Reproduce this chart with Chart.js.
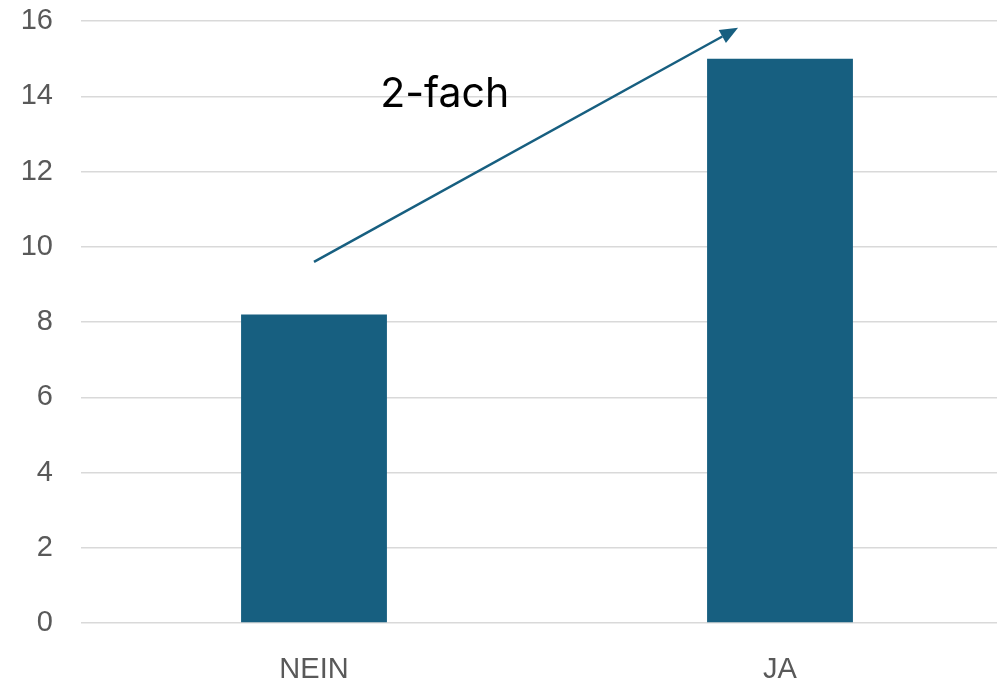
<!DOCTYPE html>
<html>
<head>
<meta charset="utf-8">
<script src="https://cdn.jsdelivr.net/npm/chart.js@4/dist/chart.umd.min.js"></script>
<style>
  html, body { margin: 0; padding: 0; background: #fff; overflow: hidden; }
  #wrap { width: 1013px; height: 679px; }
</style>
</head>
<body>
<div id="wrap"><canvas id="c" width="1013" height="679"></canvas></div>
<script>
// Categories and values
const categories = ['NEIN', 'JA'];
const values = [8.2, 15];
const yTicks = [0, 2, 4, 6, 8, 10, 12, 14, 16];

// Trend arrow and its caption, in data units (category index, value)
const arrowFrom = [0, 9.6];
const arrowTo = [0.91, 15.82];
const captionAt = [0.142, 13.71];
const captionText = '2-fach';

const barColor = '#175f80';
const gridColor = '#d9d9d9';
const tickColor = '#595959';
const tickFont = { family: "'Liberation Sans Narrow', 'Liberation Sans', Arial, sans-serif", size: 29 };

const arrowPlugin = {
  id: 'trendArrow',
  afterDatasetsDraw(chart) {
    const { ctx, scales: { x, y } } = chart;
    const x0 = x.getPixelForValue(arrowFrom[0]);
    const y0 = y.getPixelForValue(arrowFrom[1]);
    const x1 = x.getPixelForValue(arrowTo[0]);
    const y1 = y.getPixelForValue(arrowTo[1]);
    const ang = Math.atan2(y1 - y0, x1 - x0);
    const headLen = 18, headHalf = 7.5;
    const bx = x1 - headLen * Math.cos(ang);
    const by = y1 - headLen * Math.sin(ang);
    ctx.save();
    ctx.strokeStyle = barColor;
    ctx.fillStyle = barColor;
    ctx.lineWidth = 2.5;
    ctx.beginPath();
    ctx.moveTo(x0, y0);
    ctx.lineTo(bx, by);
    ctx.stroke();
    ctx.beginPath();
    ctx.moveTo(x1, y1);
    ctx.lineTo(bx + headHalf * Math.sin(ang), by - headHalf * Math.cos(ang));
    ctx.lineTo(bx - headHalf * Math.sin(ang), by + headHalf * Math.cos(ang));
    ctx.closePath();
    ctx.fill();

    ctx.fillStyle = '#000';
    ctx.font = "41px Inter, 'Noto Sans', sans-serif";
    ctx.textAlign = 'left';
    ctx.textBaseline = 'alphabetic';
    ctx.fillText(captionText, x.getPixelForValue(captionAt[0]), y.getPixelForValue(captionAt[1]));
    ctx.restore();
  }
};

new Chart(document.getElementById('c'), {
  type: 'bar',
  data: {
    labels: categories,
    datasets: [{
      data: values,
      backgroundColor: barColor,
      borderWidth: 0,
      categoryPercentage: 1,
      barPercentage: 0.313
    }]
  },
  options: {
    responsive: false,
    animation: false,
    layout: { padding: { top: 21, right: 0, left: 0, bottom: 0 } },
    plugins: { legend: { display: false }, tooltip: { enabled: false } },
    scales: {
      x: {
        grid: { display: false, drawTicks: false },
        border: { display: false },
        ticks: { color: tickColor, font: tickFont, padding: 30 },
        afterFit(s) { s.height = 56; s.paddingLeft = 0; s.paddingRight = 0; }
      },
      y: {
        min: 0,
        max: 16,
        afterBuildTicks(s) { s.ticks = yTicks.map(v => ({ value: v })); },
        grid: { color: gridColor, lineWidth: 1.5, drawTicks: false },
        border: { display: false },
        ticks: { color: tickColor, font: tickFont, padding: 28 },
        afterFit(s) { s.width = 81; s.paddingTop = 0; s.paddingBottom = 0; }
      }
    }
  },
  plugins: [arrowPlugin]
});
</script>
</body>
</html>
